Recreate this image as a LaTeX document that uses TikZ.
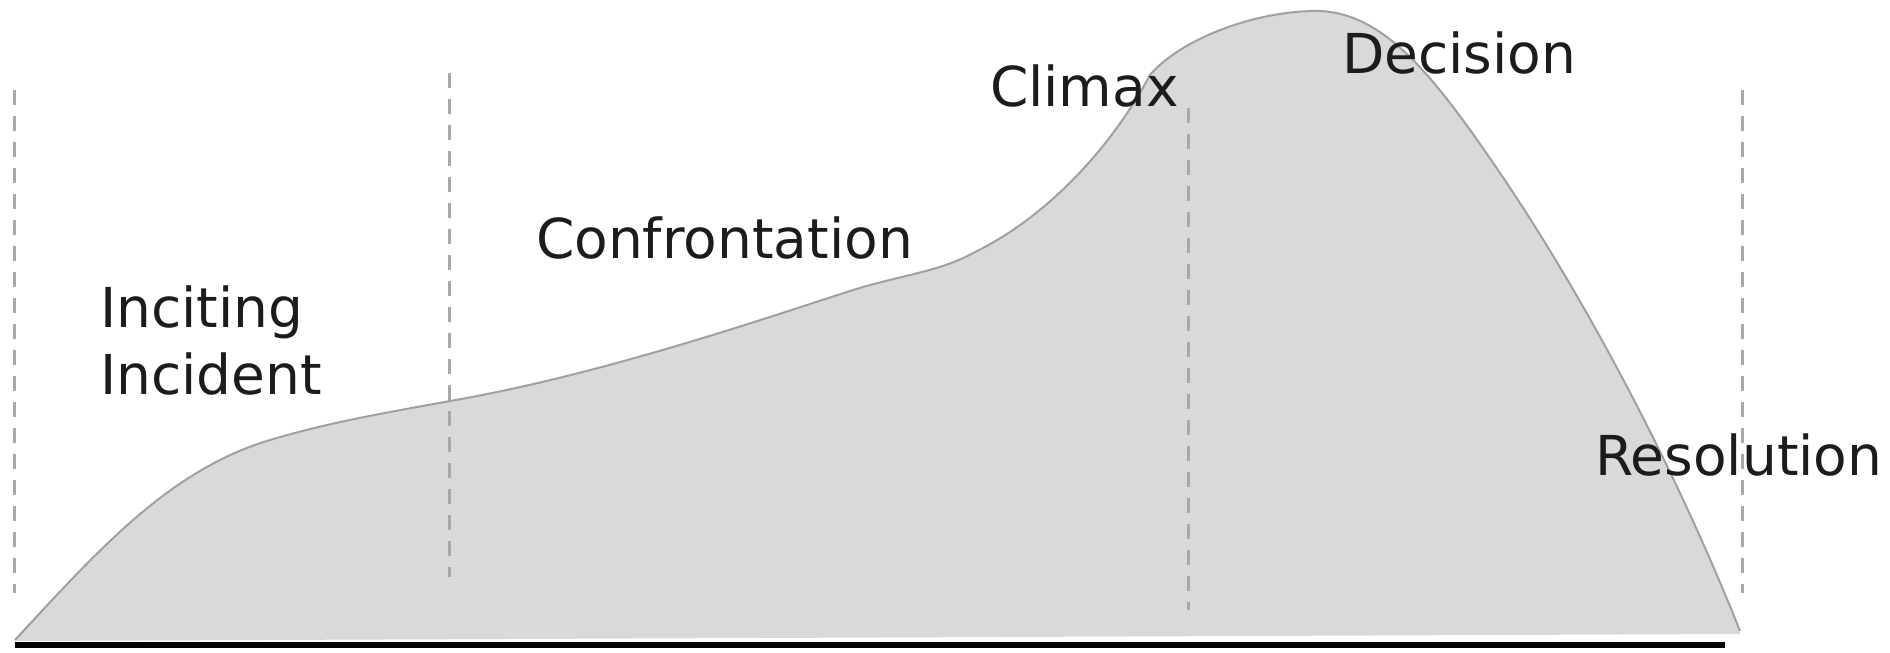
\documentclass[tikz,border=0pt]{standalone}
\usepackage{fontspec}
\setmainfont{DejaVu Sans}
\definecolor{hill}{HTML}{D9D9D9}
\definecolor{hilledge}{HTML}{A0A0A0}
\definecolor{guidegray}{HTML}{A8A8A8}
\definecolor{txt}{HTML}{1C1C1C}
\begin{document}
\begin{tikzpicture}[x=1pt,y=-1pt,
  lbl/.style={inner sep=0pt, outer sep=0pt, font=\fontsize{55}{67}\selectfont, text=txt},
  guide/.style={draw=guidegray, line width=3pt, dash pattern=on 15pt off 11pt},
  hilltop/.style={draw=hilledge, line width=2pt},
  ground/.style={draw=black, line width=6pt}]
\useasboundingbox (0,0) rectangle (1890,653);
\def\hillcurve{(15,640) .. controls (100,548) and (170,470) .. (270,440)
  .. controls (330,422) and (390,412) .. (450,401)
  .. controls (600,375) and (760,320) .. (850,291)
  .. controls (900,275) and (940,272) .. (975,252)
  .. controls (1045,218) and (1110,150) .. (1150,75)
  .. controls (1175,45) and (1240,14) .. (1310,11)
  .. controls (1380,8) and (1430,70) .. (1500,173)
  .. controls (1591,307) and (1680,480) .. (1740,631)}
% hill
\fill[hill] \hillcurve -- (1740,634) -- (15,641) -- cycle;
\draw[hilltop] \hillcurve;
% guide lines
\coordinate (g1t) at (14,90);   \coordinate (g1b) at (14,593);
\coordinate (g2t) at (449,73);  \coordinate (g2b) at (449,577);
\coordinate (g3t) at (1188,108);\coordinate (g3b) at (1188,610);
\coordinate (g4t) at (1742,90); \coordinate (g4b) at (1742,593);
\draw[guide] (g1t) -- (g1b);
\draw[guide] (g2t) -- (g2b);
\draw[guide] (g3t) -- (g3b);
\draw[guide] (g4t) -- (g4b);
% ground
\coordinate (gl) at (15,645);
\coordinate (gr) at (1725,645);
\draw[ground] (gl) -- (gr);
% labels
\node[lbl, anchor=base west, align=left] (inciting) at (100,394) {Inciting\\Incident};
\node[lbl, anchor=base west] (confrontation) at (536,258) {Confrontation};
\node[lbl, anchor=base west] (climax) at (990,106) {Climax};
\node[lbl, anchor=base west] (decision) at (1342,73) {Decision};
\node[lbl, anchor=base west] (resolution) at (1595,475) {Resolution};
\end{tikzpicture}
\end{document}
